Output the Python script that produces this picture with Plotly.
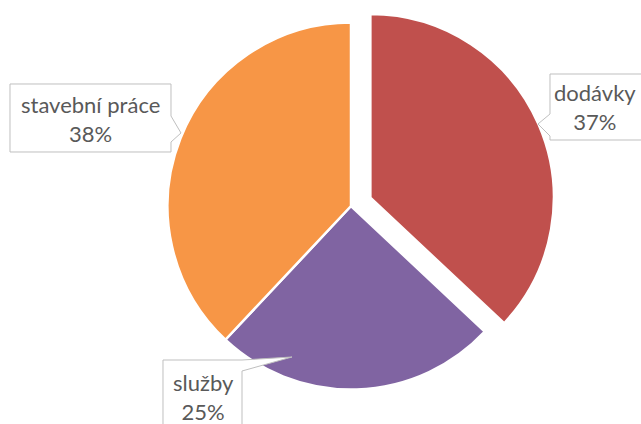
import plotly.graph_objects as go

# ---- data ----
labels = ["dodávky", "služby", "stavební práce"]
values = [37, 25, 38]
colors = ["#C0504D", "#8064A2", "#F79646"]
pulls = [0.115, 0, 0]

W, H = 641, 424

def px(x):
    return x / W

def py(y):
    return 1 - y / H

# pie geometry (window pixels)
cx, cy, r = 351, 206, 183.5
box = r * (2 + 2 * max(pulls))
dom_y = [py(cy + box / 2), py(cy - box / 2)]
dom_x = [px(cx - 240), px(cx + 240)]

fig = go.Figure(go.Pie(
    labels=labels, values=values, sort=False, direction="clockwise", rotation=0,
    pull=pulls, textinfo="none", hoverinfo="label+percent",
    marker=dict(colors=colors, line=dict(color="white", width=2.5)),
    domain=dict(x=dom_x, y=dom_y), showlegend=False,
))

# callout geometry (same order as labels): box (x0, y0, x1, y1), pointer (base1, tip, base2)
callouts = [
    dict(box=(550, 74, 650, 140), side="left", ptr=((550, 114), (538, 124), (550, 136))),
    dict(box=(163, 360, 242, 440), side="right", ptr=((242, 360), (292, 357), (242, 371))),
    dict(box=(10, 84, 171, 152), side="right", ptr=((171, 116), (181, 133), (171, 142))),
]
text_centers = [(595, 107), (203, 397), (90.5, 119.5)]

shapes = []
annotations = []
for co, (tcx, tcy), lab, val in zip(callouts, text_centers, labels, values):
    x0, y0, x1, y1 = co["box"]
    (bx1, by1), (tx, ty), (bx2, by2) = co["ptr"]
    if co["side"] == "right":
        pts = [(x0, y0), (x1, y0), (bx1, by1), (tx, ty), (bx2, by2), (x1, y1), (x0, y1)]
    else:
        pts = [(x0, y0), (x1, y0), (x1, y1), (x0, y1), (bx2, by2), (tx, ty), (bx1, by1)]
    path = "M " + " L ".join(f"{px(a):.5f},{py(b):.5f}" for a, b in pts) + " Z"
    shapes.append(dict(type="path", xref="paper", yref="paper", path=path,
                       fillcolor="white", line=dict(color="#BFBFBF", width=1)))
    annotations.append(dict(
        xref="paper", yref="paper", x=px(tcx), y=py(tcy),
        xanchor="center", yanchor="middle", showarrow=False,
        text=f"{lab}<br>{val}%", align="center",
        font=dict(family="Lato", size=22, color="#595959"),
    ))

fig.update_layout(
    width=W, height=H, margin=dict(l=0, r=0, t=0, b=0),
    paper_bgcolor="white", plot_bgcolor="white",
    shapes=shapes, annotations=annotations,
)

fig.write_html(
    "out.html",
    config={"displayModeBar": False},
    post_script="document.body.style.margin='0';document.body.style.overflow='hidden';",
)
